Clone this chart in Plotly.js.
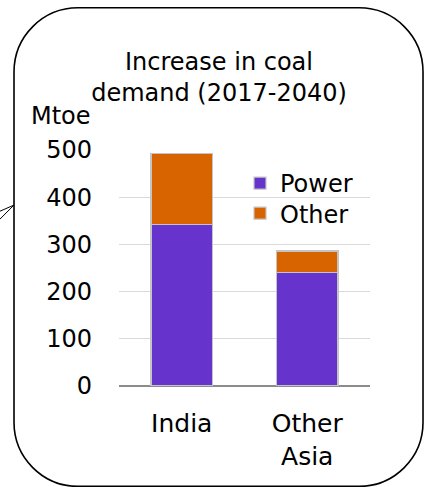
<!DOCTYPE html>
<html>
<head>
<meta charset="utf-8">
<script src="https://cdn.plot.ly/plotly-3.0.1.min.js"></script>
<style>html,body{margin:0;padding:0;background:#fff;}#chart{width:424px;height:487px;}</style>
</head>
<body>
<div id="chart"></div>
<script>
const categories = ['India', 'Other<br>Asia'];
const powerValues = [342, 240];
const otherValues = [150, 46];
const seriesNames = ['Power', 'Other'];
const yTicks = [0, 100, 200, 300, 400, 500];

const W = 424, H = 487;
const L = 119, R = 370, T = 150, B = 385.7;
const px = x => ((x - L) / (R - L)).toFixed(4);
const py = y => ((B - y) / (B - T)).toFixed(4);
const P = (x, y) => px(x) + ',' + py(y);

function roundRect(x0, y0, x1, y1, r) {
  const k = 0.5523 * r;
  return 'M' + P(x0 + r, y0) +
    ' L' + P(x1 - r, y0) +
    ' C' + P(x1 - r + k, y0) + ' ' + P(x1, y0 + r - k) + ' ' + P(x1, y0 + r) +
    ' L' + P(x1, y1 - r) +
    ' C' + P(x1, y1 - r + k) + ' ' + P(x1 - r + k, y1) + ' ' + P(x1 - r, y1) +
    ' L' + P(x0 + r, y1) +
    ' C' + P(x0 + r - k, y1) + ' ' + P(x0, y1 - r + k) + ' ' + P(x0, y1 - r) +
    ' L' + P(x0, y0 + r) +
    ' C' + P(x0, y0 + r - k) + ' ' + P(x0 + r - k, y0) + ' ' + P(x0 + r, y0) + ' Z';
}

const FONT = 'DejaVu Sans, sans-serif';
const FS = 24;

const traces = [
  {
    type: 'bar', name: seriesNames[0], x: categories, y: powerValues,
    marker: {color: '#6633CC', line: {color: '#C4C4C4', width: 1.2}},
    hoverinfo: 'none', legend: 'legend'
  },
  {
    type: 'bar', name: seriesNames[1], x: categories, y: otherValues,
    marker: {color: '#D86400', line: {color: '#C4C4C4', width: 1.2}},
    hoverinfo: 'none', legend: 'legend2'
  }
];

const legendBase = {
  x: Number(px(240)), xanchor: 'left', yanchor: 'top',
  bgcolor: 'rgba(0,0,0,0)', borderwidth: 0,
  font: {family: FONT, size: FS, color: '#000'}
};

const layout = {
  width: W, height: H,
  margin: {l: L, r: W - R, t: T, b: H - B},
  paper_bgcolor: '#ffffff', plot_bgcolor: '#ffffff',
  font: {family: FONT, size: FS, color: '#000000'},
  barmode: 'stack',
  bargap: 0.51,
  showlegend: true,
  legend: Object.assign({}, legendBase, {y: Number(py(161))}),
  legend2: Object.assign({}, legendBase, {y: Number(py(191))}),
  title: {
    text: 'Increase in coal<br>demand (2017-2040)',
    font: {family: FONT, size: FS, color: '#000'},
    xref: 'container', x: 219 / W, xanchor: 'center',
    yref: 'container', y: 1 - 70 / H, yanchor: 'top'
  },
  xaxis: {
    type: 'category', range: [-0.5, 1.5],
    showgrid: false, zeroline: false, showline: false,
    ticks: '', ticklabelstandoff: 20,
    tickfont: {family: FONT, size: 25, color: '#000'},
    fixedrange: true
  },
  yaxis: {
    range: [0, 500], tickvals: yTicks, ticktext: yTicks.map(String),
    showgrid: true, gridcolor: '#D9D9D9', gridwidth: 1.3,
    zeroline: true, zerolinecolor: '#8C8C8C', zerolinewidth: 1.5,
    showline: false, ticks: '', ticklabelstandoff: 26,
    tickfont: {family: FONT, size: FS, color: '#000'},
    fixedrange: true
  },
  annotations: [
    {
      text: 'Mtoe', showarrow: false,
      xref: 'paper', x: Number(px(93)), xanchor: 'right',
      yref: 'paper', y: Number(py(116)), yanchor: 'middle',
      font: {family: FONT, size: FS, color: '#000'}
    }
  ],
  shapes: [
    {type: 'path', xref: 'paper', yref: 'paper', path: roundRect(14, 8, 423, 486, 64),
     line: {color: '#000', width: 1.6}, fillcolor: 'rgba(0,0,0,0)', layer: 'above'},
    {type: 'line', xref: 'paper', yref: 'paper', x0: Number(px(14)), y0: Number(py(205)), x1: Number(px(-2)), y1: Number(py(212)),
     line: {color: '#000', width: 1}},
    {type: 'line', xref: 'paper', yref: 'paper', x0: Number(px(14)), y0: Number(py(205)), x1: Number(px(-2)), y1: Number(py(221)),
     line: {color: '#000', width: 1}}
  ]
};

Plotly.newPlot('chart', traces, layout, {displayModeBar: false, staticPlot: true});
</script>
</body>
</html>
